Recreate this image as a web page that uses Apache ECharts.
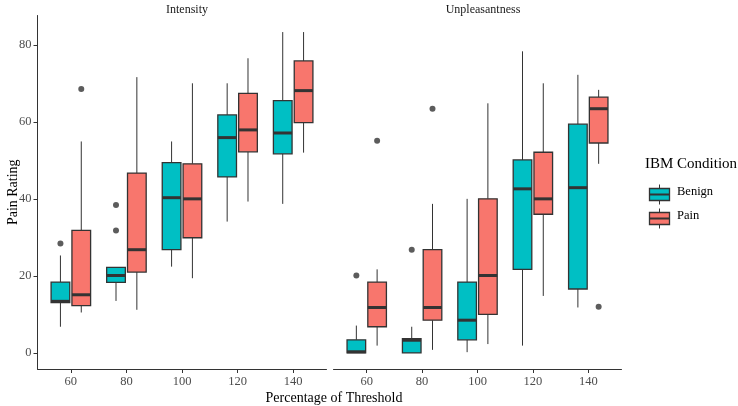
<!DOCTYPE html>
<html>
<head>
<meta charset="utf-8">
<script src="https://cdn.jsdelivr.net/npm/echarts@6/dist/echarts.min.js"></script>
<style>
  html, body { margin: 0; padding: 0; background: #fff; }
  #chart { width: 738px; height: 406px; }
</style>
</head>
<body>
<div id="chart"></div>
<script>
const categories = ['60', '80', '100', '120', '140'];
const yTicks = [0, 20, 40, 60, 80];

// box stats per category: [min, Q1, median, Q3, max]
const intensityBenign = [
  [6.8, 13.1, 13.4, 18.4, 25.3],
  [13.5, 18.3, 20.1, 22.2, 22.2],
  [22.4, 26.8, 40.3, 49.4, 54.9],
  [34.1, 45.7, 55.9, 61.8, 70.0],
  [38.7, 51.7, 57.1, 65.5, 83.3]
];
const intensityPain = [
  [10.5, 12.3, 15.1, 31.8, 54.9],
  [11.2, 21.0, 26.8, 46.7, 71.6],
  [19.4, 29.9, 40.0, 49.1, 70.0],
  [39.3, 52.2, 57.9, 67.4, 76.5],
  [52.0, 59.8, 68.1, 75.8, 83.3]
];
const unpleasantnessBenign = [
  [0.0, 0.0, 0.3, 3.4, 7.1],
  [0.0, 0.0, 3.3, 3.7, 6.8],
  [0.2, 3.4, 8.5, 18.4, 40.0],
  [1.9, 21.7, 42.6, 50.1, 78.3],
  [11.8, 16.6, 42.9, 59.4, 72.2]
];
const unpleasantnessPain = [
  [1.9, 6.8, 11.8, 18.4, 21.7],
  [0.8, 8.5, 11.8, 26.8, 38.7],
  [2.3, 10.0, 20.1, 40.0, 64.8],
  [14.8, 36.0, 40.0, 52.1, 70.0],
  [49.1, 54.5, 63.4, 66.4, 68.3]
];

// outliers: [category, value]
const intensityBenignOut = [['60', 28.4], ['80', 38.4], ['80', 31.8]];
const intensityPainOut = [['60', 68.5]];
const unpleasantnessBenignOut = [['60', 20.1], ['80', 26.8]];
const unpleasantnessPainOut = [['60', 55.1], ['80', 63.4], ['140', 12.0]];

const BENIGN = '#00BFC4';
const PAIN = '#F8766D';
const DARK = '#333333';
const FONT = 'Liberation Serif';

const chart = echarts.init(document.getElementById('chart'));

const dodge = 0.1875;
const halfBox = 0.168;

function boxData(stats) {
  return stats.map((s, i) => [i + 1].concat(s));
}

function makeBoxSeries(name, stats, color, shift, gi) {
  return {
    name: name,
    type: 'custom',
    xAxisIndex: gi,
    yAxisIndex: gi,
    data: boxData(stats),
    encode: { x: 0, y: [1, 2, 3, 4, 5] },
    renderItem: function (params, api) {
      const x = api.value(0) + shift;
      const lo = api.coord([x, api.value(1)]);
      const q1 = api.coord([x, api.value(2)]);
      const md = api.coord([x, api.value(3)]);
      const q3 = api.coord([x, api.value(4)]);
      const hi = api.coord([x, api.value(5)]);
      const left = api.coord([x - halfBox, 0])[0];
      const right = api.coord([x + halfBox, 0])[0];
      const lineStyle = { stroke: DARK, lineWidth: 1 };
      return {
        type: 'group',
        children: [
          { type: 'line', shape: { x1: lo[0], y1: lo[1], x2: q1[0], y2: q1[1] }, style: lineStyle },
          { type: 'line', shape: { x1: q3[0], y1: q3[1], x2: hi[0], y2: hi[1] }, style: lineStyle },
          { type: 'rect', shape: { x: left, y: q3[1], width: right - left, height: q1[1] - q3[1] },
            style: { fill: color, stroke: DARK, lineWidth: 1.3 } },
          { type: 'line', shape: { x1: left, y1: md[1], x2: right, y2: md[1] },
            style: { stroke: DARK, lineWidth: 3 } }
        ]
      };
    },
    z: 2
  };
}

function makeOutSeries(points, shift, gi) {
  return {
    type: 'scatter',
    xAxisIndex: gi,
    yAxisIndex: gi,
    symbolSize: 6,
    itemStyle: { color: DARK },
    data: points.map(p => [categories.indexOf(p[0]) + 1 + shift, p[1]]),
    z: 3
  };
}

const grids = [
  { left: 37.5, top: 15.5, width: 289, height: 353.5 },
  { left: 333.5, top: 15.5, width: 288, height: 353.5 }
];

const xAxes = grids.map((g, i) => ({
  type: 'value',
  gridIndex: i,
  min: 0.4,
  max: 5.6,
  splitLine: { show: false },
  axisLine: { show: true, onZero: false, lineStyle: { color: DARK, width: 1 } },
  axisTick: { show: true, length: 4, lineStyle: { color: DARK }, customValues: [1, 2, 3, 4, 5] },
  axisLabel: {
    customValues: [1, 2, 3, 4, 5],
    formatter: v => categories[Math.round(v) - 1],
    color: '#4D4D4D', fontFamily: FONT, fontSize: 12.5, margin: 6
  }
}));

const yAxes = grids.map((g, i) => ({
  type: 'value',
  gridIndex: i,
  min: -4.17,
  max: 87.6,
  splitLine: { show: false },
  axisLine: { show: i === 0, onZero: false, lineStyle: { color: DARK, width: 1 } },
  axisTick: { show: i === 0, length: 4, lineStyle: { color: DARK }, customValues: yTicks },
  axisLabel: {
    show: i === 0,
    customValues: yTicks,
    color: '#4D4D4D', fontFamily: FONT, fontSize: 12.5, margin: 6
  },
  name: i === 0 ? 'Pain Rating' : '',
  nameLocation: 'middle',
  nameGap: 17,
  nameMoveOverlap: false,
  nameTextStyle: { fontFamily: FONT, fontSize: 14, color: '#000' }
}));

const option = {
  animation: false,
  backgroundColor: '#fff',
  title: [
    { text: 'Intensity', left: 182, top: -1, textAlign: 'center',
      textStyle: { fontFamily: FONT, fontSize: 12, fontWeight: 'normal', color: '#1A1A1A' } },
    { text: 'Unpleasantness', left: 478, top: -1, textAlign: 'center',
      textStyle: { fontFamily: FONT, fontSize: 12, fontWeight: 'normal', color: '#1A1A1A' } },
    { text: 'Percentage of Threshold', left: 329, top: 386, textAlign: 'center',
      textStyle: { fontFamily: FONT, fontSize: 14, fontWeight: 'normal', color: '#000' } }
  ],
  grid: grids,
  xAxis: xAxes,
  yAxis: yAxes,
  series: [
    makeBoxSeries('Benign', intensityBenign, BENIGN, -dodge, 0),
    makeBoxSeries('Pain', intensityPain, PAIN, dodge, 0),
    makeBoxSeries('Benign', unpleasantnessBenign, BENIGN, -dodge, 1),
    makeBoxSeries('Pain', unpleasantnessPain, PAIN, dodge, 1),
    makeOutSeries(intensityBenignOut, -dodge, 0),
    makeOutSeries(intensityPainOut, dodge, 0),
    makeOutSeries(unpleasantnessBenignOut, -dodge, 1),
    makeOutSeries(unpleasantnessPainOut, dodge, 1)
  ],
  graphic: [
    { type: 'text', left: 645, top: 157,
      style: { text: 'IBM Condition', fontFamily: FONT, fontSize: 15, fill: '#000' } },
    {
      type: 'group', left: 647, top: 182,
      children: [
        { type: 'line', shape: { x1: 10, y1: 0, x2: 10, y2: 20 }, style: { stroke: DARK, lineWidth: 1 } },
        { type: 'rect', shape: { x: 0, y: 4, width: 20, height: 12 }, style: { fill: BENIGN, stroke: DARK, lineWidth: 1.3 } },
        { type: 'line', shape: { x1: 0, y1: 10, x2: 20, y2: 10 }, style: { stroke: DARK, lineWidth: 2 } }
      ]
    },
    {
      type: 'group', left: 647, top: 206,
      children: [
        { type: 'line', shape: { x1: 10, y1: 0, x2: 10, y2: 20 }, style: { stroke: DARK, lineWidth: 1 } },
        { type: 'rect', shape: { x: 0, y: 4, width: 20, height: 12 }, style: { fill: PAIN, stroke: DARK, lineWidth: 1.3 } },
        { type: 'line', shape: { x1: 0, y1: 10, x2: 20, y2: 10 }, style: { stroke: DARK, lineWidth: 2 } }
      ]
    },
    { type: 'text', left: 677, top: 185,
      style: { text: 'Benign', fontFamily: FONT, fontSize: 12.5, fill: '#000' } },
    { type: 'text', left: 677, top: 209,
      style: { text: 'Pain', fontFamily: FONT, fontSize: 12.5, fill: '#000' } }
  ]
};

chart.setOption(option);
</script>
</body>
</html>
